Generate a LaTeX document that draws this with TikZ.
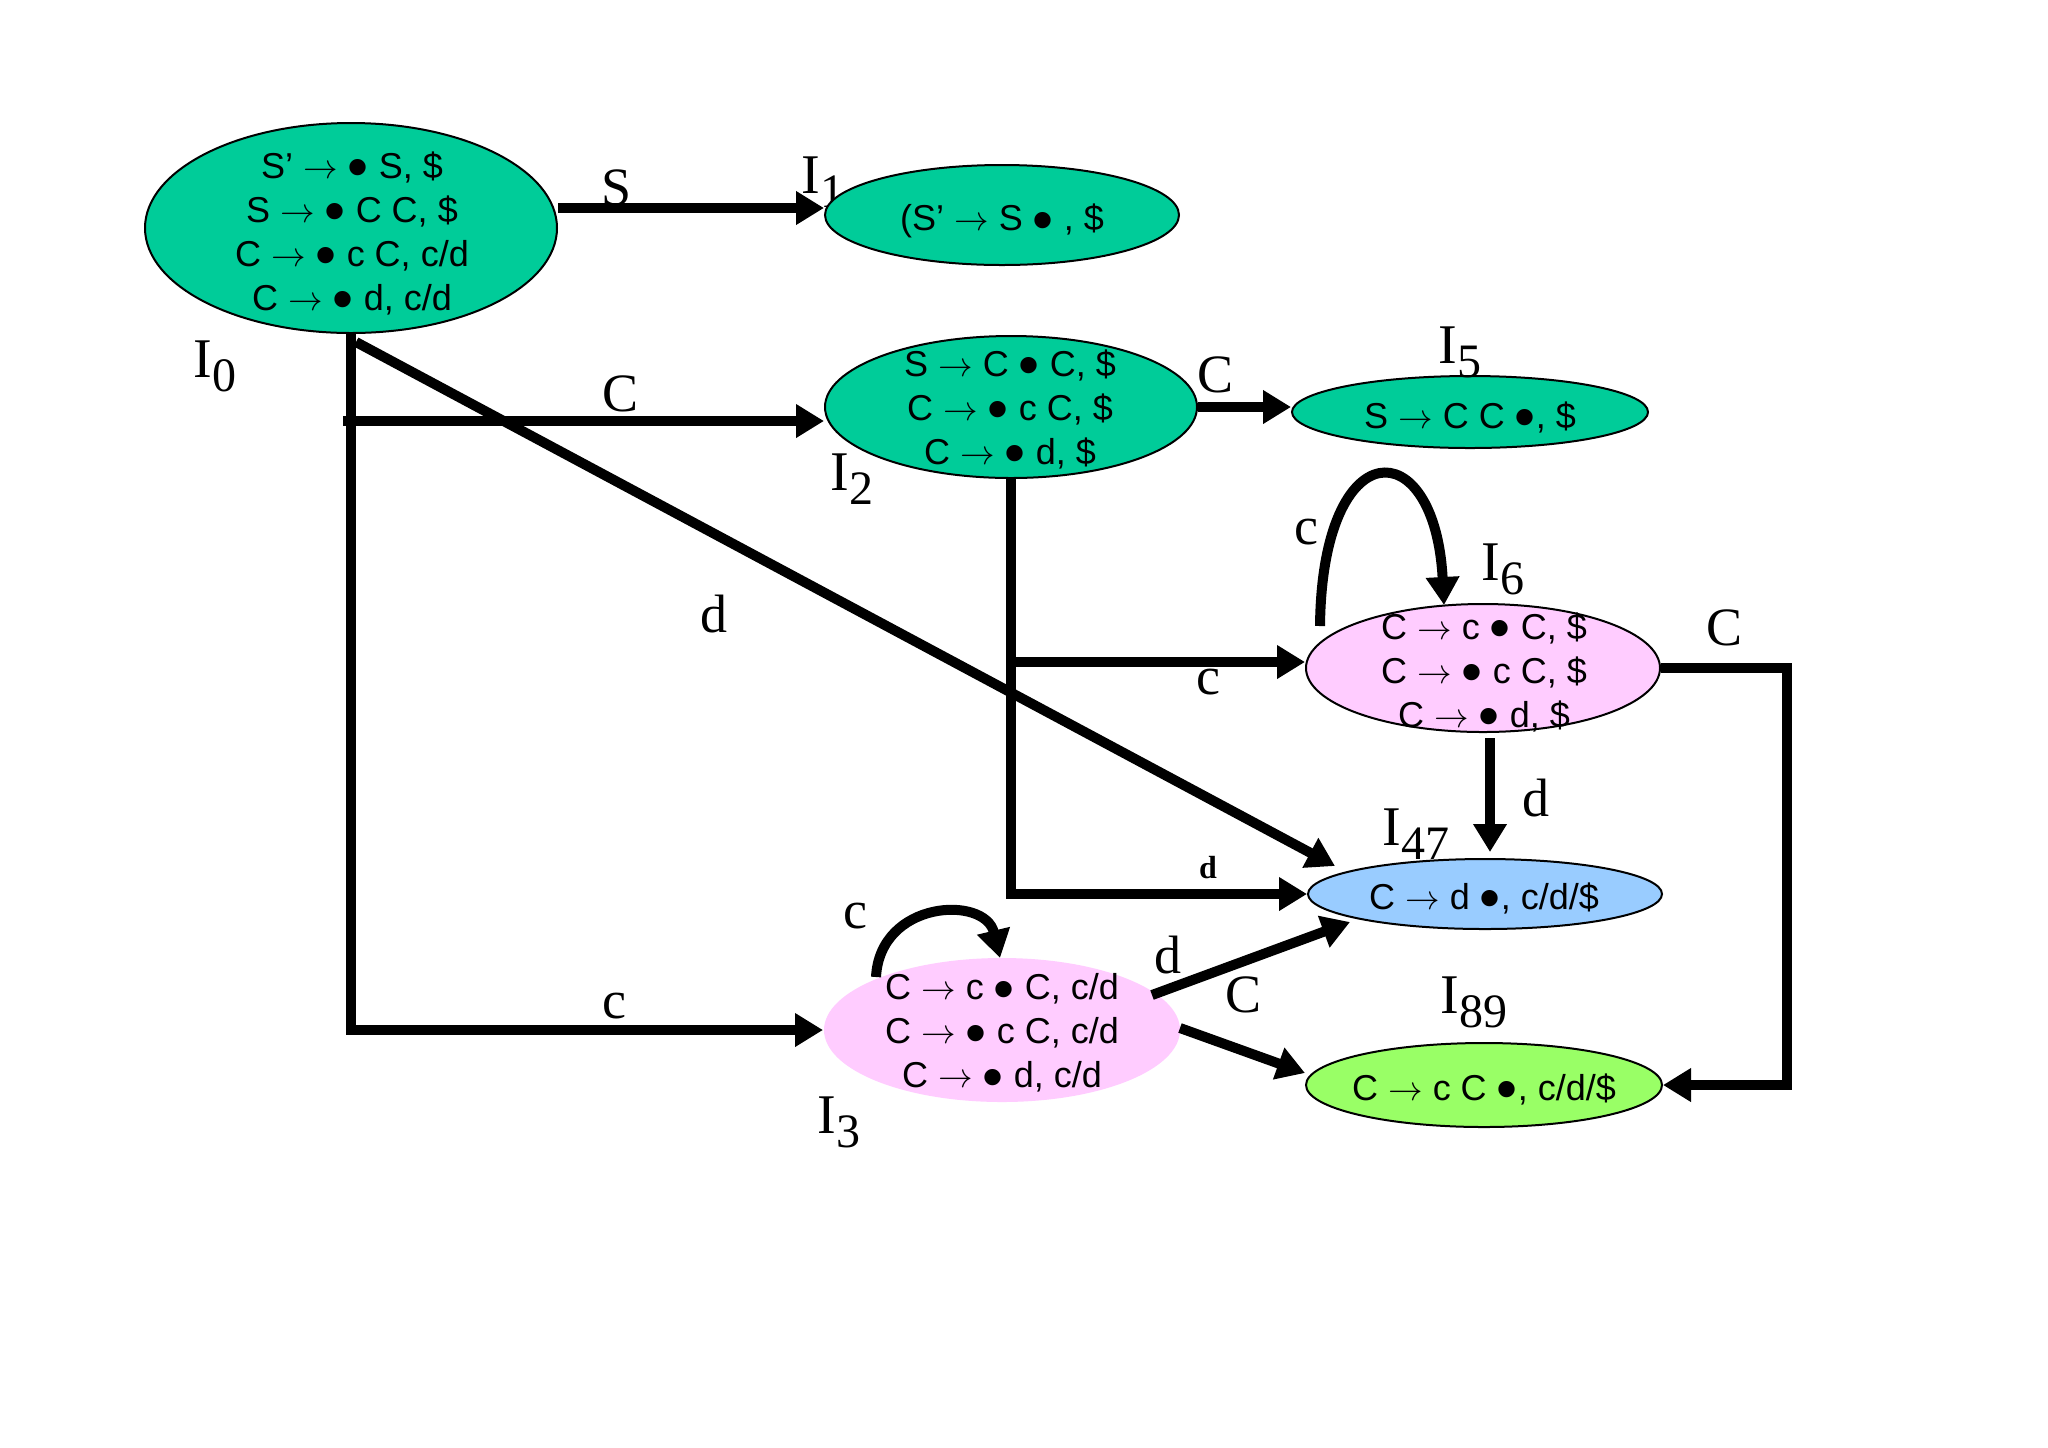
\documentclass[tikz,border=0pt]{standalone}
\usepackage{fontspec}
\setmainfont{Liberation Serif}
\newfontfamily\itemsans{Liberation Sans}
\usetikzlibrary{shapes.geometric,arrows.meta}
\definecolor{tgreen}{RGB}{0,204,153}
\definecolor{tpink}{RGB}{255,204,255}
\definecolor{tblue}{RGB}{153,204,255}
\definecolor{tlime}{RGB}{153,255,102}
\newcommand\bu{\raisebox{-4.8pt}[0pt][0pt]{\fontsize{30}{30}\selectfont •}}
\newcommand\rar{\ensuremath{\rightarrow}}
\newcommand\Ilab[1]{I\raisebox{-7pt}{\fontsize{24}{24}\selectfont #1}}
\begin{document}
\begin{tikzpicture}[x=0.5pt,y=-0.5pt,
  st/.style={ellipse, draw=black, line width=1pt, inner sep=0pt},
  itemtext/.style={font=\itemsans\fontsize{18}{22}\selectfont, align=center, inner sep=0pt},
  arr/.style={line width=5pt, -{Triangle[length=14pt,width=16pt]}},
  lbl/.style={font=\fontsize{27}{27}\selectfont, inner sep=0pt},
  ilbl/.style={font=\fontsize{28}{28}\selectfont, inner sep=0pt, anchor=base west}]
\fill[white] (0,0) rectangle (2048,1447);
\useasboundingbox (0,0) rectangle (2048,1447);

% label of I1 is partly hidden by its ellipse
\node[ilbl] (l1) at (801,193) {\Ilab{1}};

% states
\node[st, fill=tgreen, minimum width=206pt, minimum height=105pt] (I0) at (351,228) {};
\node[st, fill=tgreen, minimum width=177pt, minimum height=50pt] (I1) at (1002,215) {};
\node[st, fill=tgreen, minimum width=186pt, minimum height=71pt] (I2) at (1011,407) {};
\node[st, fill=tgreen, minimum width=178pt, minimum height=36pt] (I5) at (1470,412) {};
\node[st, fill=tpink, minimum width=177pt, minimum height=64pt] (I6) at (1483,668) {};
\node[st, draw=none, fill=tpink, minimum width=178pt, minimum height=72pt] (I3) at (1002,1030) {};
\node[st, fill=tblue, minimum width=177pt, minimum height=35pt] (I47) at (1485,894) {};
\node[st, fill=tlime, minimum width=178pt, minimum height=42pt] (I89) at (1484,1085) {};

% item texts
\node[itemtext] (t0) at (352,233) {S’ \rar{} \bu{} S, \$\\ S \rar{} \bu{} C C, \$\\ C \rar{} \bu{} c C, c/d\\ C \rar{} \bu{} d, c/d};
\node[itemtext] (t1) at (1002,221) {(S’ \rar{} S \bu{} , \$};
\node[itemtext] (t2) at (1010,409) {S \rar{} C \bu{} C, \$\\ C \rar{} \bu{} c C, \$\\ C \rar{} \bu{} d, \$};
\node[itemtext] (t5) at (1470,417) {S \rar{} C C \bu, \$};
\node[itemtext] (t6) at (1484,672) {C \rar{} c \bu{} C, \$\\ C \rar{} \bu{} c C, \$\\ C \rar{} \bu{} d, \$};
\node[itemtext] (t3) at (1002,1033) {C \rar{} c \bu{} C, c/d\\ C \rar{} \bu{} c C, c/d\\ C \rar{} \bu{} d, c/d};
\node[itemtext] (t47) at (1484,898) {C \rar{} d \bu, c/d/\$};
\node[itemtext] (t89) at (1484,1089) {C \rar{} c C \bu, c/d/\$};

% state names
\node[ilbl] (l0) at (193,377) {\Ilab{0}};
\node[ilbl] (l2) at (830,490) {\Ilab{2}};
\node[ilbl] (l5) at (1438,363) {\Ilab{5}};
\node[ilbl] (l6) at (1481,580) {\Ilab{6}};
\node[ilbl] (l47) at (1382,845) {\Ilab{47}};
\node[ilbl] (l89) at (1440,1013) {\Ilab{89}};
\node[ilbl] (l3) at (817,1133) {\Ilab{3}};

% helper coordinates
\coordinate (cstart) at (343,421);
\coordinate (dstart) at (356,342);
\coordinate (dend) at (1335,866);
\coordinate (loop6a) at (1320,626);
\coordinate (loop6b) at (1444,605);
\coordinate (d6a) at (1490,738);
\coordinate (d6b) at (1490,852);
\coordinate (c6corner) at (1787,668);
\coordinate (d3a) at (1152,995);
\coordinate (d3b) at (1350,922);
\coordinate (C3a) at (1180,1028);
\coordinate (C3b) at (1305,1073);
\coordinate (loop3a) at (876,977);
\coordinate (loop3b) at (1000,958);

% transitions
\draw[arr] ([yshift=10pt]I0.east) -- ([yshift=3.5pt]I1.west);
\draw[arr] (I0.south) |- (I3.west);
\draw[arr] (cstart) -- ([yshift=-7pt]I2.west);
\draw[arr] (dstart) -- (dend);
\draw[arr] (I2.east) -- (I2.east -| I5.west);
\draw[arr] (I2.south) |- (I47.west);
\draw[arr] (I2.south |- 0,662) -- ([yshift=3pt]I6.west);
\draw[arr] (loop6a) .. controls (1322,430) and (1435,430) .. (loop6b);
\draw[arr] (d6a) -- (d6b);
\draw[arr] (I6.east) -- (c6corner) |- (I89.east);
\draw[arr] (d3a) -- (d3b);
\draw[arr] (C3a) -- (C3b);
\draw[arr] (loop3a) .. controls (880,900) and (985,895) .. (loop3b);

% edge labels
\node[lbl] (eS) at (617,188) {S};
\node[lbl] (eC02) at (620,394) {C};
\node[lbl] (ed047) at (714,614) {d};
\node[lbl] (eC25) at (1215,375) {C};
\node[lbl] (ec26) at (1208,682) {c};
\node[inner sep=0pt, font=\bfseries\fontsize{16}{16}\selectfont] (ed247) at (1208,868) {d};
\node[lbl] (ec66) at (1306,532) {c};
\node[lbl] (ed647) at (1536,798) {d};
\node[lbl] (eC689) at (1724,628) {C};
\node[lbl] (ed347) at (1168,955) {d};
\node[lbl] (eC389) at (1243,995) {C};
\node[lbl] (ec33) at (855,916) {c};
\node[lbl] (ec03) at (614,1006) {c};
\end{tikzpicture}
\end{document}
